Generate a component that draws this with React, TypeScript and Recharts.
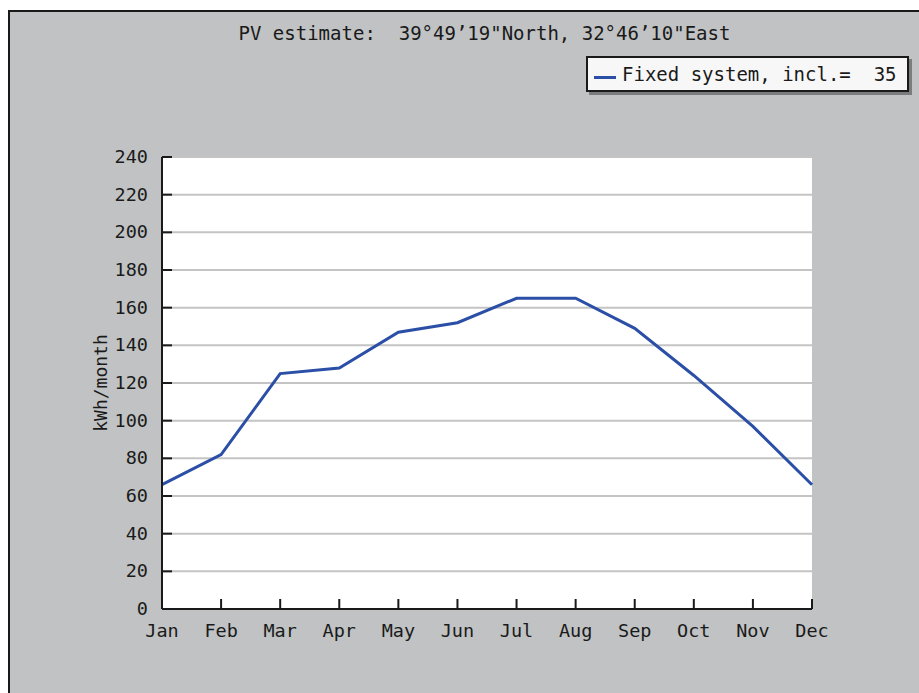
import { LineChart, Line, XAxis, YAxis, CartesianGrid } from 'recharts';

const months = ['Jan', 'Feb', 'Mar', 'Apr', 'May', 'Jun', 'Jul', 'Aug', 'Sep', 'Oct', 'Nov', 'Dec'];
const production = [66, 82, 125, 128, 147, 152, 165, 165, 149, 124, 97, 66];
const yTicks = [0, 20, 40, 60, 80, 100, 120, 140, 160, 180, 200, 220, 240];

const chartTitle = 'PV estimate:  39°49’19"North, 32°46’10"East';
const seriesName = 'Fixed system, incl.=  35';
const yLabel = 'kWh/month';

const FONT = '"DejaVu Sans Mono", monospace';
const BG = '#c0c2c3';
const INK = '#1a1a1a';
const BLUE = '#2b4fa6';

const chartData = months.map((m, i) => ({ month: m, value: production[i] }));

function XTick({ x, y, payload }: any) {
  return (
    <g>
      <line x1={x} y1={y} x2={x} y2={y - 10} stroke={INK} strokeWidth={2} />
      <text x={x} y={y + 28} textAnchor="middle" fontFamily={FONT} fontSize={18.5} fill={INK}>
        {payload.value}
      </text>
    </g>
  );
}

function YTick({ x, y, payload }: any) {
  return (
    <g>
      <line x1={x} y1={y} x2={x + 10} y2={y} stroke={INK} strokeWidth={2} />
      <text x={x - 14} y={y + 6} textAnchor="end" fontFamily={FONT} fontSize={18.5} fill={INK}>
        {payload.value}
      </text>
    </g>
  );
}

export default function App() {
  return (
    <div style={{ position: 'absolute', left: 0, top: 0, width: 919, height: 693, background: '#fff', overflow: 'hidden' }}>
      <div
        style={{
          position: 'absolute',
          left: 8,
          top: 10,
          width: 919,
          height: 700,
          background: BG,
          borderLeft: `2px solid ${INK}`,
          borderTop: `2px solid ${INK}`,
        }}
      />
      <div
        style={{
          position: 'absolute',
          left: 0,
          top: 22,
          width: 969,
          textAlign: 'center',
          fontFamily: FONT,
          fontSize: 19,
          color: INK,
          whiteSpace: 'pre',
        }}
      >
        {chartTitle}
      </div>
      <div
        style={{
          position: 'absolute',
          left: 100,
          top: 383,
          transform: 'translate(-50%, -50%) rotate(-90deg)',
          fontFamily: FONT,
          fontSize: 18,
          color: INK,
          whiteSpace: 'nowrap',
        }}
      >
        {yLabel}
      </div>
      <div
        style={{
          position: 'absolute',
          left: 586,
          top: 56,
          width: 323,
          height: 36,
          boxSizing: 'border-box',
          background: '#f7f7f7',
          border: `2px solid ${INK}`,
          boxShadow: '3px 3px 0 #7a7c7d',
          paddingLeft: 6,
          fontFamily: FONT,
          fontSize: 19,
          color: INK,
          whiteSpace: 'pre',
          display: 'flex',
          alignItems: 'center',
        }}
      >
        <span style={{ display: 'inline-block', width: 22, height: 3, background: BLUE, marginRight: 6, marginTop: 6 }} />
        {seriesName}
      </div>
      <div style={{ position: 'absolute', left: 0, top: 0 }}>
        <LineChart width={919} height={693} data={chartData} margin={{ top: 157, right: 107, left: 102, bottom: 54 }}>
          <CartesianGrid vertical={false} stroke="#c4c4c4" strokeWidth={2} fill="#ffffff" />
          <XAxis
            dataKey="month"
            height={30}
            tickSize={0}
            tickMargin={0}
            axisLine={{ stroke: INK, strokeWidth: 2 }}
            tickLine={false}
            tick={<XTick />}
            interval={0}
          />
          <YAxis
            width={60}
            domain={[0, 240]}
            ticks={yTicks}
            tickSize={0}
            tickMargin={0}
            axisLine={{ stroke: INK, strokeWidth: 2 }}
            tickLine={false}
            tick={<YTick />}
            interval={0}
          />
          <Line
            type="linear"
            dataKey="value"
            name={seriesName}
            stroke={BLUE}
            strokeWidth={3}
            dot={false}
            isAnimationActive={false}
          />
        </LineChart>
      </div>
    </div>
  );
}
